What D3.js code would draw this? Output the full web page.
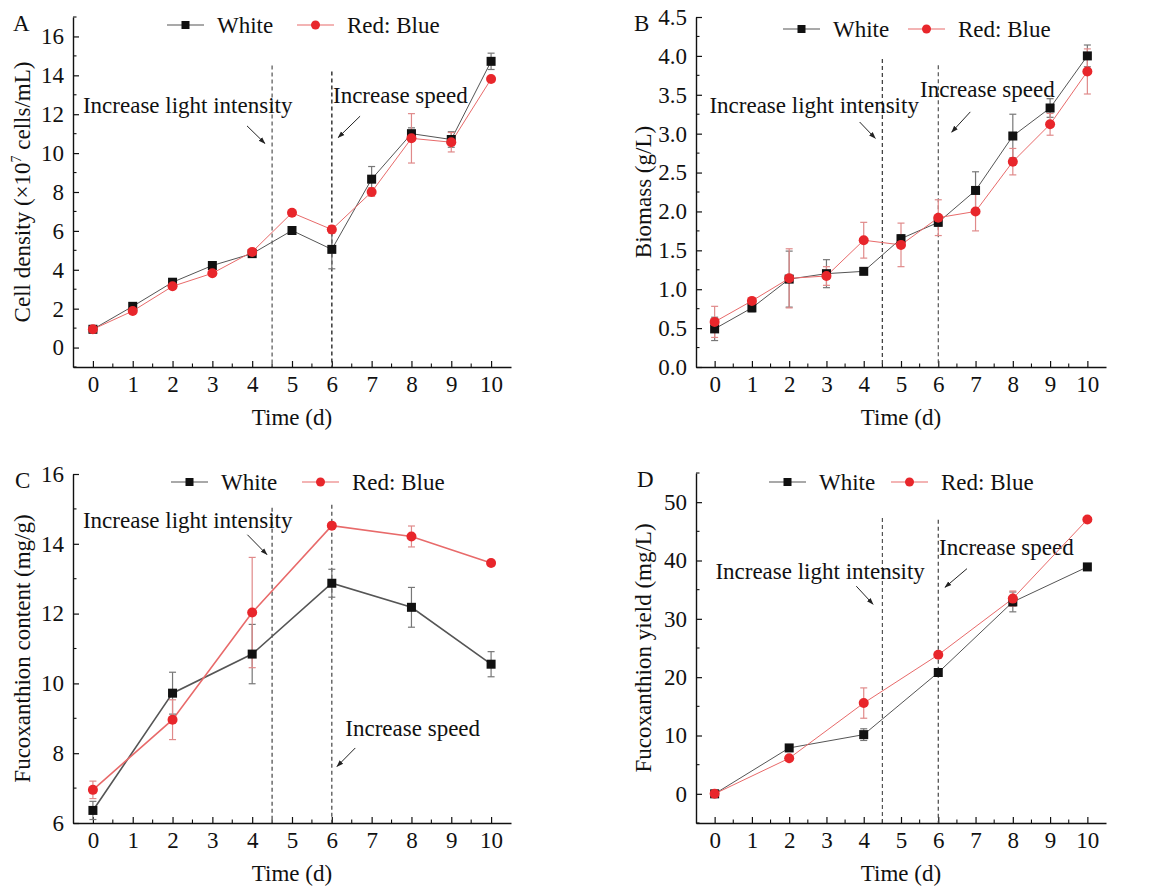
<!DOCTYPE html>
<html>
<head>
<meta charset="utf-8">
<script src="https://cdn.jsdelivr.net/npm/d3@7"></script>
<style>
  body { margin: 0; background: #fff; }
  svg text { font-family: "Liberation Serif", "Times New Roman", serif; fill: #111; }
</style>
</head>
<body>
<div id="chart"></div>
<script>
// ---- data ----
const daysAll = [0, 1, 2, 3, 4, 5, 6, 7, 8, 9, 10];
const daysEven = [0, 2, 4, 6, 8, 10];

// A: cell density (x10^7 cells/mL)
const cellWhite    = [0.94, 2.12, 3.36, 4.22, 4.83, 6.02, 5.05, 8.66, 11.0, 10.7, 14.72];
const cellWhiteErr = [0.08, 0.1, 0.1, 0.1, 0.1, 0.1, 1.0, 0.65, 0.3, 0.4, 0.42];
const cellRB       = [0.94, 1.88, 3.15, 3.82, 4.92, 6.93, 6.07, 8.0, 10.76, 10.56, 13.81];
const cellRBErr    = [0.08, 0.1, 0.1, 0.1, 0.1, 0.12, 0.2, 0.22, 1.27, 0.5, 0.1];

// B: biomass (g/L)
const bioWhite    = [0.49, 0.76, 1.13, 1.2, 1.23, 1.65, 1.86, 2.27, 2.97, 3.33, 4.0];
const bioWhiteErr = [0.15, 0.05, 0.36, 0.18, 0.03, 0.05, 0.05, 0.24, 0.28, 0.12, 0.14];
const bioRB       = [0.58, 0.85, 1.14, 1.17, 1.63, 1.57, 1.92, 2.0, 2.64, 3.12, 3.8];
const bioRBErr    = [0.2, 0.03, 0.38, 0.12, 0.23, 0.28, 0.23, 0.25, 0.17, 0.14, 0.29];

// C: fucoxanthin content (mg/g)
const fucoWhite    = [6.36, 9.72, 10.84, 12.87, 12.18, 10.55];
const fucoWhiteErr = [0.26, 0.6, 0.85, 0.4, 0.57, 0.36];
const fucoRB       = [6.95, 8.96, 12.03, 14.52, 14.21, 13.45];
const fucoRBErr    = [0.25, 0.57, 1.58, 0.05, 0.3, 0.07];

// D: fucoxanthin yield (mg/L)
const yieldWhite    = [0, 7.87, 10.15, 20.8, 32.9, 38.9];
const yieldWhiteErr = [0.2, 0.3, 1.0, 0.4, 1.7, 0.3];
const yieldRB       = [0, 6.1, 15.56, 23.83, 33.47, 47.03];
const yieldRBErr    = [0.2, 0.3, 2.6, 0.3, 1.3, 0.3];

const xTicks = [0, 1, 2, 3, 4, 5, 6, 7, 8, 9, 10];
const seriesNames = ['White', 'Red: Blue'];
const lightLabel = 'Increase light intensity';
const speedLabel = 'Increase speed';

const width = 1156, height = 887;
const svg = d3.select('#chart').append('svg')
  .attr('width', width).attr('height', height);

svg.append('defs').append('marker')
  .attr('id', 'arrow')
  .attr('viewBox', '0 0 10 10')
  .attr('refX', 9).attr('refY', 5)
  .attr('markerWidth', 7).attr('markerHeight', 7)
  .attr('orient', 'auto')
  .append('path').attr('d', 'M0,1.5 L10,5 L0,8.5 Z').attr('fill', '#222');

const colors = {
  white: '#111', whiteLine: '#555', whiteErr: '#777',
  red: '#e8262b', redLine: '#e86a6a', redErr: '#e08a8a'
};

const drawPanel = (p) => {
  const x = d3.scaleLinear().domain([-0.5, 10.5]).range([p.left, p.right]);
  const y = d3.scaleLinear().domain(p.yDomain).range([p.bottom, p.top]);
  const g = svg.append('g');

  // axes (ticks point inward)
  const xAxis = d3.axisBottom(x).tickValues(xTicks).tickSize(-6).tickPadding(9).tickSizeOuter(0);
  const gx = g.append('g').attr('transform', `translate(0,${p.bottom})`).call(xAxis);
  const yAxis = d3.axisLeft(y).tickValues(p.yTicks).tickSize(-6).tickPadding(9)
    .tickSizeOuter(0).tickFormat(p.fmt);
  const gy = g.append('g').attr('transform', `translate(${p.left},0)`).call(yAxis);
  [gx, gy].forEach(a => {
    a.select('.domain').attr('stroke', '#111').attr('stroke-width', 1.4);
    a.selectAll('.tick line').attr('stroke', '#111').attr('stroke-width', 1.2);
    a.selectAll('.tick text').attr('font-size', 23).attr('fill', '#111')
      .style('font-family', '"Liberation Serif", "Times New Roman", serif');
  });
  // minor ticks
  g.append('g').selectAll('line').data(d3.range(0.5, 10, 1)).join('line')
    .attr('x1', d => x(d)).attr('x2', d => x(d))
    .attr('y1', p.bottom).attr('y2', p.bottom - 3.5)
    .attr('stroke', '#111').attr('stroke-width', 1.1);
  g.append('g').selectAll('line').data(p.yMinor).join('line')
    .attr('x1', p.left).attr('x2', p.left + 3.5)
    .attr('y1', d => y(d)).attr('y2', d => y(d))
    .attr('stroke', '#111').attr('stroke-width', 1.1);

  // axis titles
  g.append('text').attr('x', (p.left + p.right) / 2).attr('y', p.bottom + 58)
    .attr('text-anchor', 'middle').attr('font-size', 23).text('Time (d)');
  const yt = g.append('text')
    .attr('transform', `translate(${p.yTitleX},${(p.top + p.bottom) / 2}) rotate(-90)`)
    .attr('text-anchor', 'middle').attr('font-size', 23);
  p.yTitle.forEach(part => {
    const t = yt.append('tspan').text(part.t);
    if (part.sup) t.attr('font-size', 14).attr('dy', -9);
    if (part.after) t.attr('dy', 9);
  });
  g.append('text').attr('x', p.labelX).attr('y', p.top + 14)
    .attr('font-size', 23).text(p.label);

  // vertical dashed markers
  p.vlines.forEach(v => {
    g.append('line')
      .attr('x1', x(v.x)).attr('x2', x(v.x))
      .attr('y1', y(v.top)).attr('y2', p.bottom)
      .attr('stroke', '#444').attr('stroke-width', v.w).attr('stroke-dasharray', '4,3');
  });

  // annotations
  p.notes.forEach(n => {
    g.append('text').attr('x', x(n.tx)).attr('y', y(n.ty))
      .attr('font-size', 23).text(n.text);
    g.append('line')
      .attr('x1', x(n.a[0])).attr('y1', y(n.a[1]))
      .attr('x2', x(n.a[2])).attr('y2', y(n.a[3]))
      .attr('stroke', '#222').attr('stroke-width', 1)
      .attr('marker-end', 'url(#arrow)');
  });

  // series
  const series = [
    { vals: p.white, err: p.whiteErr, line: colors.whiteLine, fill: colors.white, errC: colors.whiteErr, shape: 'square' },
    { vals: p.rb, err: p.rbErr, line: colors.redLine, fill: colors.red, errC: colors.redErr, shape: 'circle' }
  ];
  const line = d3.line().x(d => x(d[0])).y(d => y(d[1]));
  series.forEach(s => {
    const pts = p.days.map((d, i) => [d, s.vals[i], s.err[i]]);
    g.append('path').datum(pts).attr('d', line)
      .attr('fill', 'none').attr('stroke', s.line).attr('stroke-width', p.lw);
  });
  series.forEach(s => {
    const pts = p.days.map((d, i) => [d, s.vals[i], s.err[i]]);
    const eg = g.append('g').attr('stroke', s.errC).attr('stroke-width', 1.2);
    eg.selectAll('line.v').data(pts).join('line').attr('class', 'v')
      .attr('x1', d => x(d[0])).attr('x2', d => x(d[0]))
      .attr('y1', d => y(d[1] - d[2])).attr('y2', d => y(d[1] + d[2]));
    eg.selectAll('line.t').data(pts).join('line').attr('class', 't')
      .attr('x1', d => x(d[0]) - 3.5).attr('x2', d => x(d[0]) + 3.5)
      .attr('y1', d => y(d[1] + d[2])).attr('y2', d => y(d[1] + d[2]));
    eg.selectAll('line.b').data(pts).join('line').attr('class', 'b')
      .attr('x1', d => x(d[0]) - 3.5).attr('x2', d => x(d[0]) + 3.5)
      .attr('y1', d => y(d[1] - d[2])).attr('y2', d => y(d[1] - d[2]));
  });
  series.forEach(s => {
    const pts = p.days.map((d, i) => [d, s.vals[i]]);
    if (s.shape === 'square') {
      g.append('g').selectAll('rect').data(pts).join('rect')
        .attr('x', d => x(d[0]) - 4.5).attr('y', d => y(d[1]) - 4.5)
        .attr('width', 9).attr('height', 9).attr('fill', s.fill);
    } else {
      g.append('g').selectAll('circle').data(pts).join('circle')
        .attr('cx', d => x(d[0])).attr('cy', d => y(d[1]))
        .attr('r', 5).attr('fill', s.fill);
    }
  });

  // legend
  const lg = g.append('g').attr('transform', `translate(${p.left + p.legX},${p.top + p.legY})`);
  series.forEach((s, i) => {
    const ox = i === 0 ? 0 : p.legGap;
    lg.append('line').attr('x1', ox).attr('x2', ox + 37).attr('y1', 0).attr('y2', 0)
      .attr('stroke', s.line).attr('stroke-width', 1.2);
    if (s.shape === 'square') {
      lg.append('rect').attr('x', ox + 18.5 - 4).attr('y', -4).attr('width', 8).attr('height', 8).attr('fill', s.fill);
    } else {
      lg.append('circle').attr('cx', ox + 18.5).attr('cy', 0).attr('r', 4.5).attr('fill', s.fill);
    }
    lg.append('text').attr('x', ox + 50).attr('y', 8).attr('font-size', 23).text(seriesNames[i]);
  });
};

drawPanel({
  label: 'A', labelX: 13, left: 73, right: 511, top: 17, bottom: 367,
  yDomain: [-1, 17], yTicks: d3.range(0, 17, 2), yMinor: d3.range(-1, 18, 2), fmt: d3.format('d'),
  yTitleX: 30, yTitle: [{ t: 'Cell density (×10' }, { t: '7', sup: true }, { t: ' cells/mL)', after: true }],
  days: daysAll, white: cellWhite, whiteErr: cellWhiteErr, rb: cellRB, rbErr: cellRBErr, lw: 1,
  vlines: [{ x: 4.5, top: 14.5, w: 1.1 }, { x: 6, top: 14.2, w: 1.6 }],
  notes: [
    { text: lightLabel, tx: -0.25, ty: 12.07, a: [3.87, 11.4, 4.32, 10.5] },
    { text: speedLabel, tx: 6.03, ty: 12.58, a: [6.71, 11.9, 6.16, 10.8] }
  ],
  legX: 94, legGap: 130, legY: 8
});

drawPanel({
  label: 'B', labelX: 634, left: 696, right: 1106, top: 17, bottom: 367,
  yDomain: [0, 4.5], yTicks: d3.range(0, 4.51, 0.5), yMinor: d3.range(0.25, 4.5, 0.5), fmt: d3.format('.1f'),
  yTitleX: 651, yTitle: [{ t: 'Biomass (g/L)' }],
  days: daysAll, white: bioWhite, whiteErr: bioWhiteErr, rb: bioRB, rbErr: bioRBErr, lw: 1,
  vlines: [{ x: 4.5, top: 3.96, w: 1.3 }, { x: 6, top: 3.88, w: 1.1 }],
  notes: [
    { text: lightLabel, tx: -0.14, ty: 3.26, a: [3.89, 3.15, 4.31, 2.94] },
    { text: speedLabel, tx: 5.51, ty: 3.47, a: [6.86, 3.28, 6.36, 3.02] }
  ],
  legX: 87, legGap: 125, legY: 12
});

drawPanel({
  label: 'C', labelX: 15, left: 73, right: 511, top: 474, bottom: 823,
  yDomain: [6, 16], yTicks: d3.range(6, 16.1, 2), yMinor: d3.range(7, 16, 2), fmt: d3.format('d'),
  yTitleX: 30, yTitle: [{ t: 'Fucoxanthion content (mg/g)' }],
  days: daysEven, white: fucoWhite, whiteErr: fucoWhiteErr, rb: fucoRB, rbErr: fucoRBErr, lw: 1.6,
  vlines: [{ x: 4.5, top: 15.03, w: 1.2 }, { x: 6, top: 15.12, w: 1.2 }],
  notes: [
    { text: lightLabel, tx: -0.25, ty: 14.45, a: [3.88, 14.26, 4.37, 13.69] },
    { text: speedLabel, tx: 6.34, ty: 8.48, a: [6.59, 8.15, 6.13, 7.62] }
  ],
  legX: 98, legGap: 131, legY: 8
});

drawPanel({
  label: 'D', labelX: 637, left: 696, right: 1106, top: 473, bottom: 823,
  yDomain: [-5, 55], yTicks: d3.range(0, 51, 10), yMinor: d3.range(-5, 56, 10), fmt: d3.format('d'),
  yTitleX: 651, yTitle: [{ t: 'Fucoxanthion yield (mg/L)' }],
  days: daysEven, white: yieldWhite, whiteErr: yieldWhiteErr, rb: yieldRB, rbErr: yieldRBErr, lw: 1,
  vlines: [{ x: 4.5, top: 47.3, w: 1.1 }, { x: 6, top: 47.0, w: 1.2 }],
  notes: [
    { text: lightLabel, tx: 0.02, ty: 36.9, a: [3.80, 35.6, 4.25, 32.5] },
    { text: speedLabel, tx: 6.02, ty: 40.9, a: [6.77, 38.6, 6.18, 35.4] }
  ],
  legX: 73, legGap: 122, legY: 9
});
</script>
</body>
</html>
